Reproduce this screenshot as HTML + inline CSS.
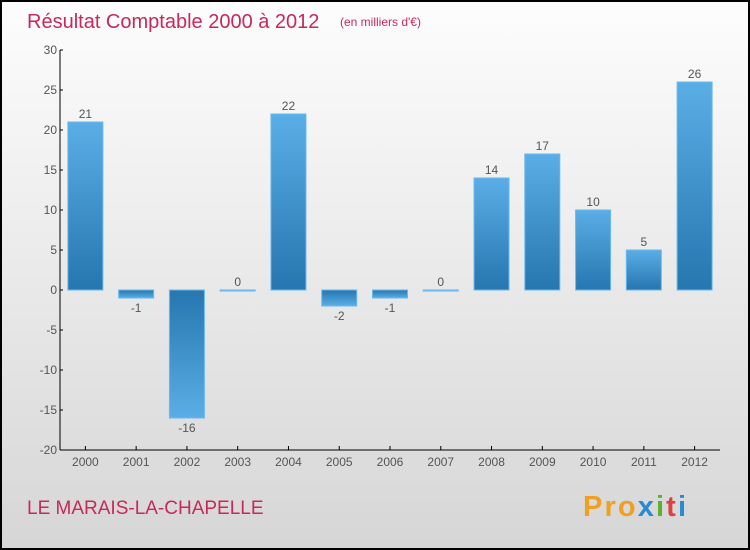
<!DOCTYPE html>
<html><head><meta charset="utf-8"><style>
body{margin:0;}
svg{display:block;font-family:"Liberation Sans",sans-serif;}
</style></head><body>
<svg id="chart" width="750" height="550" xmlns="http://www.w3.org/2000/svg">
<defs>
<linearGradient id="bg" x1="0" y1="0" x2="0" y2="1"><stop offset="0" stop-color="#fdfdfd"/><stop offset="1" stop-color="#d6d6d6"/></linearGradient>
<linearGradient id="gpos" x1="0" y1="0" x2="0" y2="1"><stop offset="0" stop-color="#5aaee6"/><stop offset="1" stop-color="#2676b0"/></linearGradient>
<linearGradient id="gneg" x1="0" y1="0" x2="0" y2="1"><stop offset="0" stop-color="#2676b0"/><stop offset="1" stop-color="#5aaee6"/></linearGradient>
</defs>
<rect x="1" y="1" width="748" height="548" fill="url(#bg)" stroke="#000" stroke-width="2"/>
<text x="27" y="28" font-size="20" fill="#c8285a">Résultat Comptable 2000 à 2012</text>
<text x="340" y="26" font-size="12" fill="#c8285a">(en milliers d'€)</text>
<text x="27" y="514" font-size="19" fill="#c8285a">LE MARAIS-LA-CHAPELLE</text>
<g font-size="29" font-weight="bold">
<text x="583" y="516" textLength="103"><tspan fill="#f0a020">Pro</tspan><tspan fill="#2a8ad0">x</tspan><tspan fill="#60b030">i</tspan><tspan fill="#e04040">t</tspan><tspan fill="#2a8ad0">i</tspan></text>
</g>
<g id="axes"></g>
<g id="bars"></g>
</svg>
<script>
const categories=["2000","2001","2002","2003","2004","2005","2006","2007","2008","2009","2010","2011","2012"];
const values=[21,-1,-16,0,22,-2,-1,0,14,17,10,5,26];
const yTicks=[30,25,20,15,10,5,0,-5,-10,-15,-20];
const NS="http://www.w3.org/2000/svg";
const x0=60,x1=720,yTop=50,yBot=450,vMax=30,vMin=-20;
const slot=(x1-x0)/categories.length;
function y(v){return yTop+(vMax-v)*(yBot-yTop)/(vMax-vMin);}
function xc(i){return x0+slot*(i+0.5);}
function mk(tag,attrs,parent){const e=document.createElementNS(NS,tag);for(const k in attrs)e.setAttribute(k,attrs[k]);parent.appendChild(e);return e;}
const axes=document.getElementById('axes'),bars=document.getElementById('bars');
let a=mk('line',{x1:x0,y1:yTop,x2:x0,y2:yBot,stroke:'#000','stroke-width':1},axes);


a=mk('line',{x1:x0,y1:yBot,x2:x1,y2:yBot,stroke:'#000','stroke-width':1},axes);


yTicks.forEach(t=>{
  const ty=y(t);
  const l=mk('line',{x1:x0,y1:ty,x2:x0+3,y2:ty,stroke:'#000'},axes);
  
  
  const tx=mk('text',{x:x0-3,y:ty+4,'font-size':12,'text-anchor':'end',fill:'#555'},axes);
  tx.textContent=t<0?'-'+Math.abs(t):t;
  
  
});
const bw=35;
categories.forEach((c,i)=>{
  const cx=xc(i),v=values[i];
  const l=mk('line',{x1:cx,y1:yBot,x2:cx,y2:yBot-4,stroke:'#000'},axes);
  
  
  const tx=mk('text',{x:cx,y:yBot+16,'font-size':12,'text-anchor':'middle',fill:'#555'},axes);
  tx.textContent=c;
  
  
  const top=Math.min(y(v),y(0)),h=Math.max(Math.abs(y(v)-y(0)),1);
  const r=mk('rect',{x:cx-bw/2,y:top,width:bw,height:h,fill:v>=0?'url(#gpos)':'url(#gneg)',stroke:'#6ab8ee','stroke-width':1},bars);
  
  
  const lb=mk('text',{x:cx,y:v>=0?y(v)-4:y(v)+14,'font-size':12,'text-anchor':'middle',fill:'#555'},bars);
  lb.textContent=v<0?'-'+Math.abs(v):v;
  
  
});
</script>
</body></html>
